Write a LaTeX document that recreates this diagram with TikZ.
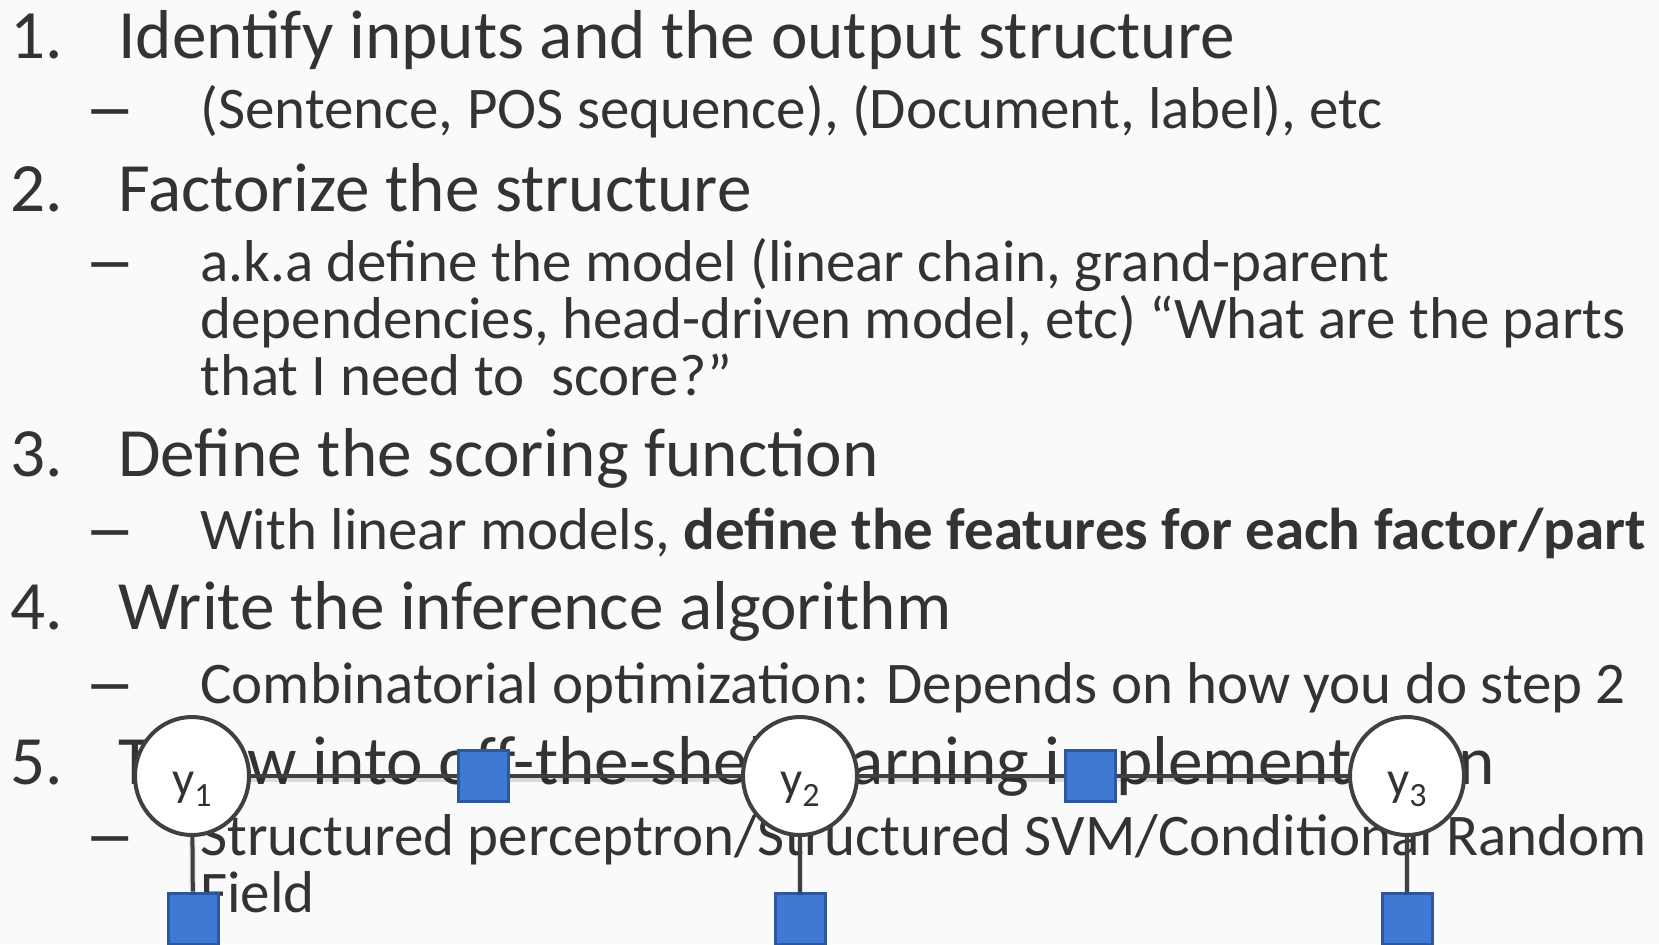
\documentclass[tikz,border=0pt]{standalone}
\usepackage{fontspec}
\setmainfont{Carlito}
\usetikzlibrary{shapes.geometric}
\definecolor{bgc}{HTML}{FAFAFA}
\definecolor{txt}{HTML}{333333}
\definecolor{edgec}{HTML}{404040}
\definecolor{facfill}{RGB}{64,121,212}
\definecolor{facdraw}{RGB}{46,88,158}
\newcommand{\mainsz}{\fontsize{34.6}{40}\selectfont}
\newcommand{\subsz}{\fontsize{29.5}{35}\selectfont}
\newcommand{\varlab}[1]{\raisebox{-9.5pt}{\fontsize{24.5}{28}\selectfont y\raisebox{-5.5pt}{\fontsize{17}{18}\selectfont #1}}}
\newcommand{\subdash}{\raisebox{-2pt}{\scalebox{1.75}[1.25]{–}}}
\begin{document}
\begin{tikzpicture}[x=0.5pt,y=-0.5pt,
  numtxt/.style={anchor=base west, inner sep=0pt, text=txt, font=\mainsz},
  maintxt/.style={anchor=base west, inner sep=0pt, text=txt, font=\mainsz},
  subtxt/.style={anchor=base west, inner sep=0pt, text=txt, font=\subsz},
  dashtxt/.style={anchor=base west, inner sep=0pt, text=txt, font=\subsz},
  var/.style={ellipse, draw=edgec, fill=white, line width=2pt, minimum width=57pt, minimum height=59pt, inner sep=0pt, text height=0pt, text depth=0pt, text=txt},
  factor/.style={rectangle, draw=facdraw, fill=facfill, line width=1.5pt, minimum width=25pt, minimum height=25.5pt, inner sep=0pt},
  edge/.style={draw=edgec, line width=2pt, preaction={draw=black, opacity=0.12, line width=3pt, transform canvas={yshift=-1.5pt}}}
]
\fill[bgc] (0,0) rectangle (1659,944);
\useasboundingbox (0,0) rectangle (1659,944);

% item 1
\node[numtxt] (n1) at (10,58) {1.};
\node[maintxt] (m1) at (118,58) {Identify inputs and the output structure};
\node[dashtxt] (d1) at (84,128) {\subdash};
\node[subtxt] (s1) at (200,128) {(Sentence, POS sequence), (Document, label), etc};
% item 2
\node[numtxt] (n2) at (10,211) {2.};
\node[maintxt] (m2) at (118,211) {Factorize the structure};
\node[dashtxt] (d2) at (84,281) {\subdash};
\node[subtxt] (s2a) at (200,281) {a.k.a define the model (linear chain, grand-parent};
\node[subtxt] (s2b) at (200,338) {dependencies, head-driven model, etc) “What are the parts};
\node[subtxt] (s2c) at (200,395) {that I need to\ \ score?”};
% item 3
\node[numtxt] (n3) at (10,476) {3.};
\node[maintxt] (m3) at (118,476) {Define the scoring function};
\node[dashtxt] (d3) at (84,549) {\subdash};
\node[subtxt] (s3) at (200,549) {With linear models, \textbf{define the features for each factor/part}};
% item 4
\node[numtxt] (n4) at (10,629) {4.};
\node[maintxt] (m4) at (118,629) {Write the inference algorithm};
\node[dashtxt] (d4) at (84,703) {\subdash};
\node[subtxt] (s4) at (200,703) {Combinatorial optimization: Depends on how you do step 2};
% item 5
\node[numtxt] (n5) at (10,784) {5.};
\node[maintxt] (m5) at (118,784) {Throw into off-the-shelf learning implementation};
\node[dashtxt] (d5) at (84,855) {\subdash};
\node[subtxt] (s5a) at (200,855) {Structured perceptron/Structured SVM/Conditional Random};
\node[subtxt] (s5b) at (200,912) {Field};

% factor graph
\node[var] (y1) at (192,776) {\varlab{1}};
\node[var] (y2) at (800,776) {\varlab{2}};
\node[var] (y3) at (1407,776) {\varlab{3}};
\node[factor] (f12) at (483,776) {};
\node[factor] (f23) at (1090,776) {};
\node[factor] (u1) at (193,918.5) {};
\node[factor] (u2) at (800,918.5) {};
\node[factor] (u3) at (1407,918.5) {};

\draw[edge] (y1) -- (f12);
\draw[edge] (f12) -- (y2);
\draw[edge] (y2) -- (f23);
\draw[edge] (f23) -- (y3);
\draw[edge] (y1) -- (u1);
\draw[edge] (y2) -- (u2);
\draw[edge] (y3) -- (u3);
\end{tikzpicture}
\end{document}
